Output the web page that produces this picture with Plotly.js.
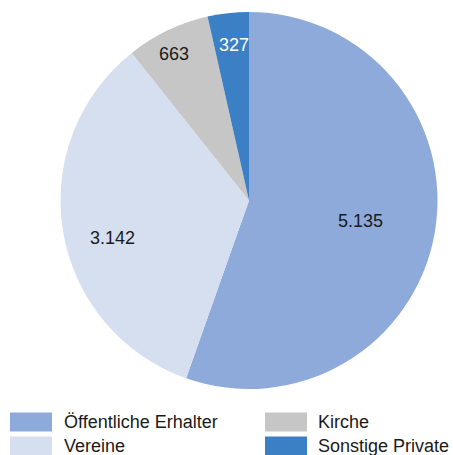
<!DOCTYPE html>
<html><head><meta charset="utf-8">
<script src="https://cdn.plot.ly/plotly-3.0.1.min.js"></script>
<style>html,body{margin:0;padding:0;background:#fff}#chart{width:453px;height:455px}</style>
</head><body><div id="chart"></div>
<script>
const labels = ["Öffentliche Erhalter", "Vereine", "Kirche", "Sonstige Private"];
const values = [5135, 3142, 663, 327];
const colors = ["#8eaadb", "#d5dff0", "#c6c6c6", "#3b7fc4"];
const textColors = ["#1a1a1a", "#1a1a1a", "#1a1a1a", "#ffffff"];
// label placement (style): radial fraction and angular shift in degrees
const labelRadius = [0.60, 0.75, 0.87, 0.83];
const labelShift = [0.5, -6, -1.5, 1];

const W = 453, H = 455;
const cx = 249, cy = 200.5, R = 188.5;
const FONT = "Liberation Sans, Arial, sans-serif";

const trace = {
  type: "pie",
  labels: labels,
  values: values,
  sort: false,
  direction: "clockwise",
  rotation: 0,
  marker: {colors: colors, line: {width: 0}},
  textinfo: "none",
  hoverinfo: "none",
  domain: {x: [(cx - R) / W, (cx + R) / W], y: [1 - (cy + R) / H, 1 - (cy - R) / H]},
  showlegend: false
};

const shapes = [], annotations = [];
// value labels placed at slice angles computed from the values
const total = values.reduce((a, b) => a + b, 0);
let cum = 0;
const fmt = v => v.toLocaleString("de-DE");
values.forEach((v, i) => {
  const mid = (cum + v / 2) / total * 360 + labelShift[i];
  cum += v;
  const a = mid * Math.PI / 180;
  const px = cx + R * labelRadius[i] * Math.sin(a);
  const py = cy - R * labelRadius[i] * Math.cos(a);
  annotations.push({xref: "paper", yref: "paper", x: px / W, y: 1 - py / H,
    xanchor: "center", yanchor: "middle", showarrow: false, text: fmt(v),
    font: {family: FONT, size: 18, color: textColors[i]}});
});

// manual legend built from labels/colors
const cols = [[10, 62], [265, 316]];
const rows = [422, 446];
labels.forEach((lab, i) => {
  const c = cols[Math.floor(i / 2)], r = rows[i % 2];
  shapes.push({type: "rect", xref: "paper", yref: "paper",
    x0: c[0] / W, x1: (c[0] + 42) / W, y0: 1 - (r + 9.5) / H, y1: 1 - (r - 9.5) / H,
    fillcolor: colors[i], line: {width: 0}});
  annotations.push({xref: "paper", yref: "paper", x: c[1] / W, y: 1 - r / H,
    xanchor: "left", yanchor: "middle", showarrow: false, text: lab,
    font: {family: FONT, size: 18, color: "#1a1a1a"}});
});

Plotly.newPlot("chart", [trace], {
  width: W, height: H,
  margin: {l: 0, r: 0, t: 0, b: 0},
  paper_bgcolor: "#ffffff",
  separators: ",.",
  shapes: shapes,
  annotations: annotations
}, {displayModeBar: false, staticPlot: true});
</script></body></html>
